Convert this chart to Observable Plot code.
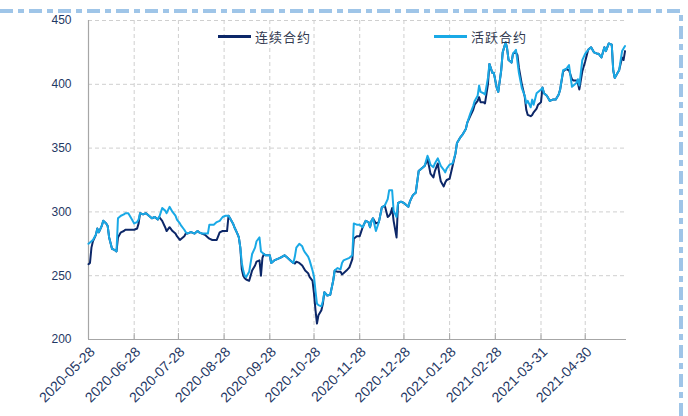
<!DOCTYPE html>
<html><head><meta charset="utf-8">
<script src="https://cdn.jsdelivr.net/npm/d3@7"></script>
<script src="https://cdn.jsdelivr.net/npm/@observablehq/plot@0.6"></script>
<style>
body{margin:0;background:#fff;}
#wrap{position:relative;width:688px;height:416px;overflow:hidden;background:#fff;}
#wrap svg.plot{position:absolute;left:0;top:0;}
.legend{position:absolute;top:27px;font-family:"Noto Sans CJK SC",sans-serif;font-size:13px;color:#333a50;letter-spacing:1px;display:flex;align-items:center;white-space:nowrap;}
.legend .sw{display:inline-block;width:33px;height:2.5px;margin-right:4px;}
#border{position:absolute;left:0;top:0;}
</style></head><body><div id="wrap"></div>
<script>
const dates = ["2020-05-28","2020-05-29","2020-05-30","2020-05-31","2020-06-02","2020-06-03","2020-06-04","2020-06-06","2020-06-07","2020-06-09","2020-06-10","2020-06-11","2020-06-13","2020-06-15","2020-06-16","2020-06-17","2020-06-18","2020-06-19","2020-06-21","2020-06-22","2020-06-24","2020-06-25","2020-06-26","2020-06-28","2020-06-30","2020-07-01","2020-07-02","2020-07-04","2020-07-06","2020-07-08","2020-07-10","2020-07-12","2020-07-14","2020-07-15","2020-07-17","2020-07-19","2020-07-20","2020-07-22","2020-07-24","2020-07-26","2020-07-27","2020-07-29","2020-07-30","2020-08-01","2020-08-02","2020-08-03","2020-08-05","2020-08-06","2020-08-08","2020-08-10","2020-08-11","2020-08-13","2020-08-15","2020-08-17","2020-08-18","2020-08-20","2020-08-21","2020-08-23","2020-08-25","2020-08-27","2020-08-29","2020-08-30","2020-08-31","2020-09-01","2020-09-03","2020-09-04","2020-09-06","2020-09-07","2020-09-08","2020-09-09","2020-09-10","2020-09-11","2020-09-12","2020-09-14","2020-09-15","2020-09-16","2020-09-18","2020-09-19","2020-09-21","2020-09-22","2020-09-23","2020-09-24","2020-09-25","2020-09-27","2020-09-28","2020-09-29","2020-10-01","2020-10-03","2020-10-05","2020-10-08","2020-10-10","2020-10-12","2020-10-14","2020-10-15","2020-10-16","2020-10-18","2020-10-20","2020-10-21","2020-10-22","2020-10-24","2020-10-25","2020-10-27","2020-10-28","2020-10-29","2020-10-30","2020-10-31","2020-11-02","2020-11-03","2020-11-04","2020-11-06","2020-11-08","2020-11-10","2020-11-11","2020-11-13","2020-11-15","2020-11-16","2020-11-17","2020-11-19","2020-11-21","2020-11-23","2020-11-24","2020-11-26","2020-11-28","2020-11-30","2020-12-02","2020-12-04","2020-12-05","2020-12-06","2020-12-07","2020-12-09","2020-12-11","2020-12-13","2020-12-15","2020-12-17","2020-12-18","2020-12-19","2020-12-20","2020-12-21","2020-12-23","2020-12-24","2020-12-26","2020-12-28","2020-12-31","2021-01-01","2021-01-03","2021-01-05","2021-01-07","2021-01-08","2021-01-09","2021-01-11","2021-01-13","2021-01-14","2021-01-15","2021-01-17","2021-01-18","2021-01-20","2021-01-21","2021-01-22","2021-01-24","2021-01-25","2021-01-26","2021-01-28","2021-01-30","2021-02-01","2021-02-02","2021-02-04","2021-02-06","2021-02-08","2021-02-09","2021-02-11","2021-02-13","2021-02-14","2021-02-16","2021-02-17","2021-02-18","2021-02-20","2021-02-21","2021-02-23","2021-02-24","2021-02-26","2021-02-27","2021-03-01","2021-03-02","2021-03-04","2021-03-05","2021-03-07","2021-03-08","2021-03-09","2021-03-11","2021-03-12","2021-03-14","2021-03-15","2021-03-16","2021-03-18","2021-03-20","2021-03-21","2021-03-22","2021-03-24","2021-03-25","2021-03-26","2021-03-28","2021-03-29","2021-03-31","2021-04-01","2021-04-02","2021-04-04","2021-04-06","2021-04-08","2021-04-10","2021-04-12","2021-04-13","2021-04-15","2021-04-17","2021-04-19","2021-04-21","2021-04-22","2021-04-24","2021-04-25","2021-04-26","2021-04-28","2021-04-30","2021-05-02","2021-05-04","2021-05-06","2021-05-08","2021-05-09","2021-05-11","2021-05-13","2021-05-14","2021-05-16","2021-05-18","2021-05-19","2021-05-20","2021-05-22","2021-05-23","2021-05-25","2021-05-26","2021-05-27"];
// 活跃合约
const activeValues = [275,276,277,278,282,287,284,289,293,291,289,280,271,270,269,295,296,297,298,299,299,297,295,291,292,294,299,298,299,297,295,296,294,296,303,301,299,304,300,297,294,291,289,286,284,283,284,284,283,285,284,283,283,283,290,290,290,292,293,296,297,297,297,295,291,288,283,280,272,260,254,250,249,253,260,267,272,277,280,269,268,267,266,266,266,260,262,263,264,266,264,262,260,265,272,275,273,270,268,265,262,254,249,238,228,227,226,230,237,234.5,235,246,254,256,255,260,262,263,264,266,291,290,290,288,293,292,288,293,295,285,292,303.5,305,310,317,317,317,301,296,307,308,307,304,308,313,315,332,333,334,336,344,341,337,335,338,342,339,336,333,331,334,337,338,346,354,358,361,365,370,377,383,387,391,399,394,393,392,405,416,409,409,397,394,411,425,433,428,419,417,424,427,418,409,397,391,385,387,382,388,384,393,394,396,397.5,393,391,387,388,388,392,396,411,412,415,398,399,401,404,399,419,424,427,429,425,424,424,421,429,426,432,431,411,405,409,411,426,428,430];
// 连续合约
const continuousValues = [259,260,272,277,282,287,284,289,293,291,289,280,271,270,269,280,282,284,285,286,286,286,286,286,287,291,299,298,299,297,295,296,294,296,293,288,285,288,285,283,281,278,279,281,283,283,284,284,283,285,284,283,282,280,279,278,278,278,284,285,285,285,297,295,291,288,283,280,272,255,250,248,247,246,250,254,258,261,262,250,264,267,266,266,266,260,262,263,264,266,264,262,260,259.5,261,260,258,256,254,252,249,246,236,223,212.5,219,223,228,237,234.5,235,246,254,253,253,251,252,254,256.5,263,279,281,281,288,293,292,288,293,295,291,292,303.5,305,296,297,299,303,293,280,307,308,307,304,308,313,315,332,333,334,336,341,336,330,327,332,338,330,324,320,323,325,326,336,346,354,358,361,365,370,375,380,384,387,390,386,386,385,400,416,409,409,397,394,411,425,433,428,419,417,424,425,423,413,400,390,380,376,375,376,378,381,384,386,397.5,393,391,387,388,388,392,396,410,412,411,404,403,403,401,396,410,418,427,429,425,424,424,421,429,426,432,431,411,405,409,411,421,419,426];
const seriesNames = ["连续合约", "活跃合约"];
const seriesColors = ["#0c2768", "#19a9e6"];
const xDomain = ["2020-05-28", "2021-05-28"];
const xTickLabels = ["2020-05-28","2020-06-28","2020-07-28","2020-08-28","2020-09-28","2020-10-28","2020-11-28","2020-12-28","2021-01-28","2021-02-28","2021-03-31","2021-04-30"];
const yTickValues = [200, 250, 300, 350, 400, 450];

const parse = d3.utcParse("%Y-%m-%d");
const cont = dates.map((d, i) => ({date: parse(d), value: continuousValues[i], series: seriesNames[0]}));
const act = dates.map((d, i) => ({date: parse(d), value: activeValues[i], series: seriesNames[1]}));
const xt = xTickLabels.map(parse);
const axisColor = "#1f3864";

const chart = Plot.plot({
  width: 688, height: 416,
  marginLeft: 88, marginRight: 62, marginTop: 20, marginBottom: 77,
  style: {fontFamily: "'Liberation Sans', Arial, sans-serif", fontSize: "12px", background: "transparent", overflow: "visible"},
  x: {type: "utc", domain: xDomain.map(parse), label: null},
  y: {domain: [yTickValues[0], yTickValues[yTickValues.length - 1]], label: null},
  color: {domain: seriesNames, range: seriesColors},
  marks: [
    Plot.gridX(xt.slice(1), {stroke: "#cfcfcf", strokeOpacity: 1, strokeDasharray: "4,3"}),
    Plot.gridY(yTickValues.slice(1), {stroke: "#cfcfcf", strokeOpacity: 1, strokeDasharray: "4,3"}),
    Plot.axisY(yTickValues, {tickSize: 0, tickPadding: 17, fill: axisColor, fontSize: 12, label: null}),
    Plot.axisX(xt, {tickSize: -6, stroke: "#a6a6a6", tickFormat: () => "", label: null}),
    Plot.axisX(xt, {tickSize: 0, tickRotate: -45, tickPadding: 10, dx: 4, tickFormat: d3.utcFormat("%Y-%m-%d"), fill: axisColor, fontSize: 14, label: null}),
    Plot.ruleX([xt[0]], {stroke: "#a6a6a6", strokeWidth: 1.2}),
    Plot.ruleY([yTickValues[0]], {stroke: "#a6a6a6", strokeWidth: 1.2}),
    Plot.line(cont, {x: "date", y: "value", stroke: "series", strokeWidth: 2}),
    Plot.line(act, {x: "date", y: "value", stroke: "series", strokeWidth: 2})
  ]
});
chart.classList.add("plot");
const wrap = document.getElementById("wrap");
wrap.appendChild(chart);

// legend
const legendLeft = [218, 434];
seriesNames.forEach((name, i) => {
  const item = document.createElement("div");
  item.className = "legend";
  item.style.left = legendLeft[i] + "px";
  item.innerHTML = `<span class="sw" style="background:${seriesColors[i]}"></span><span>${name}</span>`;
  wrap.appendChild(item);
});

// decorative dash-dot frame (top and right)
const b = d3.select(wrap).append("svg").attr("id", "border").attr("width", 688).attr("height", 416);
b.append("path").attr("d", "M0,11H681V416").attr("fill", "none")
  .attr("stroke", "#9fc5e8").attr("stroke-width", 4).attr("stroke-dasharray", "13,5,6,5");
</script></body></html>
